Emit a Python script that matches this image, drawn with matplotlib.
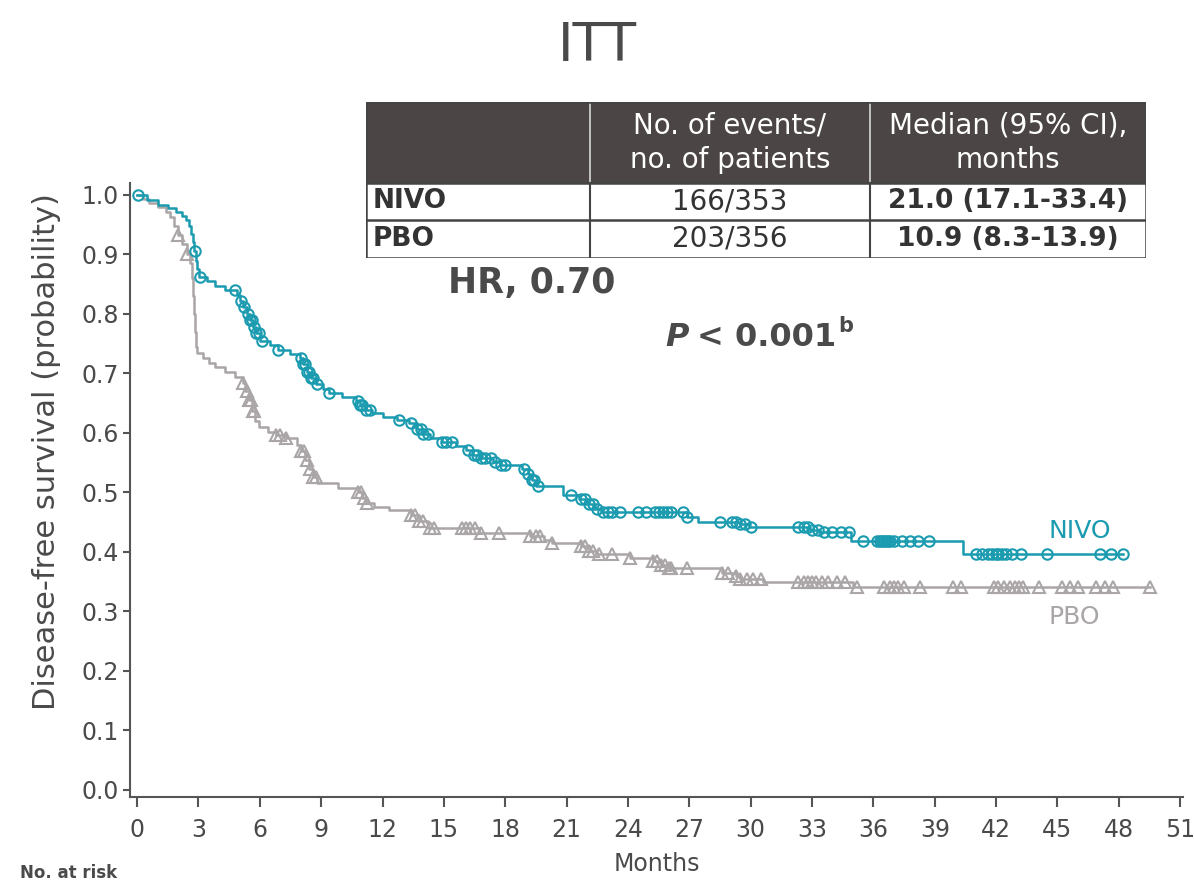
import matplotlib.pyplot as plt
import numpy as np
from matplotlib.patches import Rectangle

# Kaplan-Meier step points (month, survival after the drop)
nivo_t = [0, 0.5, 1.0, 1.5, 1.9, 2.2, 2.4, 2.55, 2.65, 2.74, 2.8, 2.86, 2.95, 3.05, 3.4, 3.8,
          4.3, 4.9, 5.05, 5.2, 5.35, 5.5, 5.65, 5.8, 6.0, 6.5, 6.9, 7.5, 7.95, 8.1, 8.3, 8.5,
          8.75, 9.1, 9.4, 10.0, 10.7, 10.9, 11.2, 11.5, 12.0, 12.7, 13.3, 13.7, 14.0, 14.3,
          14.9, 15.6, 16.1, 16.4, 16.8, 17.4, 17.8, 18.8, 19.1, 19.3, 19.5, 20.8, 21.6, 22.0,
          22.4, 22.7, 26.9, 27.4, 29.5, 29.9, 32.9, 33.4, 34.9, 40.4]
nivo_s = [1.0, 0.992, 0.983, 0.978, 0.972, 0.965, 0.958, 0.947, 0.935, 0.921, 0.905, 0.889,
          0.875, 0.862, 0.855, 0.847, 0.84, 0.832, 0.822, 0.812, 0.8, 0.79, 0.778, 0.768,
          0.755, 0.747, 0.74, 0.733, 0.726, 0.715, 0.703, 0.692, 0.682, 0.674, 0.667, 0.66,
          0.653, 0.646, 0.638, 0.633, 0.627, 0.621, 0.616, 0.607, 0.598, 0.592, 0.584, 0.578,
          0.571, 0.562, 0.557, 0.551, 0.546, 0.54, 0.53, 0.52, 0.51, 0.495, 0.488, 0.48,
          0.472, 0.467, 0.458, 0.45, 0.446, 0.442, 0.437, 0.433, 0.418, 0.396]
nivo_cens = [0.05, 2.84, 3.08, 4.8, 5.1, 5.25, 5.4, 5.5, 5.6, 5.7, 5.8, 5.95, 6.1, 6.9, 8.0,
             8.1, 8.2, 8.3, 8.4, 8.5, 8.6, 8.8, 9.4, 10.8, 10.9, 11.0, 11.2, 11.4, 12.8, 13.4,
             13.7, 13.9, 14.0, 14.2, 14.9, 15.1, 15.4, 16.2, 16.45, 16.6, 16.8, 17.0, 17.3,
             17.5, 17.8, 18.0, 18.9, 19.1, 19.3, 19.4, 19.6, 21.2, 21.7, 21.9, 22.1, 22.3,
             22.5, 22.8, 23.0, 23.2, 23.6, 24.5, 24.9, 25.3, 25.5, 25.7, 25.9, 26.1, 26.7,
             26.9, 28.5, 29.1, 29.3, 29.5, 29.7, 30.0, 32.3, 32.6, 32.8, 33.0, 33.3, 33.6,
             34.0, 34.4, 34.8, 35.5, 36.2, 36.3, 36.4, 36.5, 36.6, 36.7, 36.8, 37.0, 37.4,
             37.8, 38.2, 38.7, 41.0, 41.3, 41.6, 41.8, 42.0, 42.1, 42.3, 42.5, 42.8, 43.2,
             44.5, 47.1, 47.6, 48.2]
nivo_end = 48.2

pbo_t = [0, 0.3, 0.6, 1.0, 1.4, 1.6, 1.8, 2.0, 2.2, 2.44, 2.6, 2.7, 2.74, 2.78, 2.82, 2.86,
         2.95, 3.2, 3.5, 3.8, 4.3, 4.8, 5.2, 5.3, 5.45, 5.6, 5.75, 5.95, 6.4, 6.8, 7.3, 7.8,
         8.0, 8.2, 8.4, 8.6, 8.8, 9.8, 10.8, 11.0, 11.2, 11.6, 12.3, 13.4, 13.8, 14.2, 16.7,
         19.2, 19.9, 20.3, 21.7, 22.1, 22.5, 24.1, 25.2, 25.6, 26.0, 28.6, 29.3, 29.5, 30.6,
         35.0]
pbo_s = [1.0, 0.993, 0.986, 0.979, 0.972, 0.962, 0.948, 0.933, 0.918, 0.9, 0.885, 0.86, 0.83,
         0.8, 0.77, 0.745, 0.735, 0.726, 0.718, 0.711, 0.702, 0.694, 0.684, 0.67, 0.655,
         0.637, 0.62, 0.61, 0.602, 0.597, 0.592, 0.58, 0.57, 0.555, 0.54, 0.525, 0.516,
         0.508, 0.5, 0.49, 0.482, 0.475, 0.47, 0.462, 0.452, 0.44, 0.432, 0.427, 0.42, 0.415,
         0.41, 0.402, 0.396, 0.39, 0.385, 0.378, 0.372, 0.365, 0.36, 0.355, 0.35, 0.341]
pbo_cens = [2.0, 2.44, 5.2, 5.35, 5.45, 5.55, 5.65, 5.7, 6.8, 7.0, 7.3, 8.0, 8.15, 8.3, 8.45,
            8.6, 8.75, 10.8, 10.95, 11.1, 11.25, 13.4, 13.6, 13.8, 14.0, 14.3, 14.5, 15.9,
            16.1, 16.3, 16.5, 16.8, 17.7, 19.2, 19.5, 19.7, 20.3, 21.7, 21.9, 22.1, 22.3,
            22.6, 23.2, 24.1, 25.2, 25.4, 25.6, 25.8, 26.0, 26.1, 26.9, 28.6, 28.9, 29.3,
            29.5, 29.8, 30.1, 30.5, 32.3, 32.6, 32.8, 33.0, 33.2, 33.5, 33.8, 34.2, 34.6,
            35.2, 36.5, 36.8, 37.0, 37.2, 37.5, 38.3, 39.9, 40.3, 41.9, 42.1, 42.4, 42.7,
            42.9, 43.1, 43.3, 44.1, 45.2, 45.6, 46.0, 46.9, 47.3, 47.7, 49.5]
pbo_end = 49.5

table_header = ["", "No. of events/\nno. of patients", "Median (95% CI),\nmonths"]
table_rows = [["NIVO", "166/353", "21.0 (17.1-33.4)"],
              ["PBO", "203/356", "10.9 (8.3-13.9)"]]

teal = "#1b9bb0"
gray = "#aaa5a6"
dark = "#4a4a4a"

fig = plt.figure(figsize=(11.94, 8.86), dpi=100)
ax = fig.add_axes([0.109, 0.1005, 0.882, 0.693])


def km(t, s, cens, end, color, marker, ms):
    t = np.array(t + [end])
    s = np.array(s + [s[-1]])
    ax.step(t, s, where="post", color=color, lw=1.8, zorder=3)
    cens = np.array(cens)
    idx = np.searchsorted(t, cens, side="right") - 1
    ax.plot(cens, s[idx], ls="none", marker=marker, ms=ms, mfc="none",
            mec=color, mew=1.5, zorder=4)


km(pbo_t, pbo_s, pbo_cens, pbo_end, gray, "^", 8)
km(nivo_t, nivo_s, nivo_cens, nivo_end, teal, "o", 7.5)

ax.set_xlim(-0.34, 51.15)
ax.set_ylim(-0.012, 1.02)
ax.set_xticks(np.arange(0, 52, 3))
ax.set_yticks(np.arange(0, 1.01, 0.1))
ax.set_yticklabels(["%.1f" % v for v in np.arange(0, 1.01, 0.1)])
ax.spines["top"].set_visible(False)
ax.spines["right"].set_visible(False)
for sp in ["left", "bottom"]:
    ax.spines[sp].set_color("#555555")
    ax.spines[sp].set_linewidth(1.5)
ax.tick_params(direction="out", width=1.5, color="#555555", labelsize=17, labelcolor=dark)
ax.tick_params(axis="x", length=7, pad=8)
ax.tick_params(axis="y", length=5, pad=3)
ax.set_xlabel("Months", fontsize=17, color=dark, labelpad=7)
ax.set_ylabel("Disease-free survival (probability)", fontsize=22, color=dark)
ax.yaxis.set_label_coords(-0.066, 0.562)

ax.text(44.55, 0.435, "NIVO", color=teal, fontsize=18, ha="left", va="center")
ax.text(44.55, 0.291, "PBO", color=gray, fontsize=18, ha="left", va="center")

fig.text(0.5, 0.948, "ITT", fontsize=38, color=dark, ha="center", va="center")
fig.text(0.017, 0.009, "No. at risk", fontsize=12, color=dark, fontweight="bold")

# table
tab = fig.add_axes([366 / 1194, 1 - 258 / 886, 780 / 1194, 156 / 886])
tab.set_xlim(0, 1)
tab.set_ylim(0, 1)
tab.axis("off")
cols = [0, 0.287, 0.646, 1]
ys = [1, 0.481, 0.244, 0]
tab.add_patch(Rectangle((0, ys[1]), 1, ys[0] - ys[1], color="#4b4545", lw=0))
for x in cols[1:3]:
    tab.plot([x, x], [ys[1], ys[0]], color="#d8d8d8", lw=1.2)
    tab.plot([x, x], [0, ys[1]], color="#444444", lw=1.5)
for y in ys[1:]:
    tab.plot([0, 1], [y, y], color="#444444", lw=1.8)
tab.plot([0, 0], [0, 1], color="#444444", lw=1.8)
tab.plot([1, 1], [0, 1], color="#444444", lw=1.8)
tab.plot([0, 1], [1, 1], color="#444444", lw=1.8)
for j in range(1, 3):
    tab.text((cols[j] + cols[j + 1]) / 2, (ys[0] + ys[1]) / 2, table_header[j],
             color="white", fontsize=20, ha="center", va="center", linespacing=1.3)
for i, row in enumerate(table_rows):
    yc = (ys[i + 1] + ys[i + 2]) / 2
    tab.text(0.008, yc, row[0], fontsize=19, color="#333333", fontweight="bold",
             ha="left", va="center")
    tab.text((cols[1] + cols[2]) / 2, yc, row[1], fontsize=20, color="#333333",
             ha="center", va="center")
    tab.text((cols[2] + cols[3]) / 2, yc, row[2], fontsize=19, color="#333333",
             fontweight="bold", ha="center", va="center")

fig.text(448 / 1194, 1 - 283 / 886, "HR, 0.70", fontsize=25, color=dark,
         fontweight="bold", ha="left", va="center")
fig.text(665 / 1194, 1 - 337 / 886, "P", fontsize=23, color=dark, fontweight="bold",
         style="italic", ha="left", va="center")
fig.text(697 / 1194, 1 - 337 / 886, "< 0.001", fontsize=23, color=dark,
         fontweight="bold", ha="left", va="center")
fig.text(838 / 1194, 1 - 326 / 886, "b", fontsize=15, color=dark,
         fontweight="bold", ha="left", va="center")

fig.savefig("out.png", dpi=100)
